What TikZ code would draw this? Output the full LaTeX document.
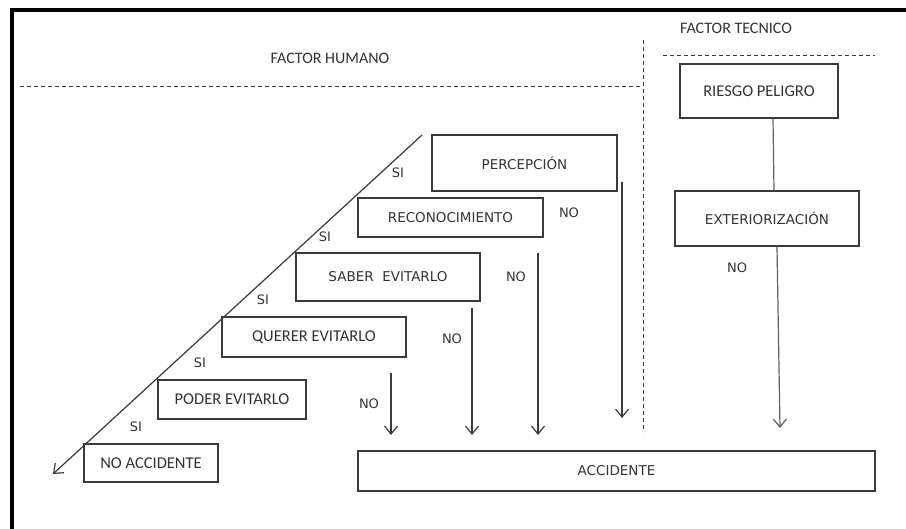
\documentclass[tikz,border=0pt]{standalone}
\usepackage{fontspec}
\usetikzlibrary{arrows.meta}
\newfontfamily\calfont{Carlito}
\newfontfamily\djfont{DejaVu Sans}
\definecolor{linea}{HTML}{3A3A3A}
\definecolor{texto}{HTML}{333333}
\tikzset{
  caja/.style={draw=linea, line width=1.2pt, inner sep=0pt, text=texto},
  cajadj/.style={caja, font=\djfont\fontsize{13.5}{15}\selectfont},
  cajacal/.style={caja, font=\calfont\fontsize{16.5}{18}\selectfont},
  etiq/.style={text=texto, inner sep=0pt, font=\djfont\fontsize{13}{15}\selectfont},
  titulo/.style={text=texto, inner sep=0pt, font=\calfont\fontsize{16}{18}\selectfont},
  flecha/.style={draw=linea, line width=1.2pt, -{Straight Barb[length=8pt,width=13pt]}},
  guion/.style={draw=linea, line width=1pt, dash pattern=on 4pt off 3pt},
}
\begin{document}
\begin{tikzpicture}[x=1pt, y=-1pt]
  \useasboundingbox[fill=white] (0,0) rectangle (906,529);
  %marco
  \draw[line width=4pt] (12,529) -- (12,10) -- (906,10);

  %factor humano
  \node[titulo] (humano) at (330,58) {FACTOR HUMANO};
  \node[titulo] (tecnico) at (736,28) {FACTOR TECNICO};
  \coordinate (h1) at (20,87);
  \coordinate (h2) at (643,87);
  \coordinate (v1) at (643,40);
  \coordinate (v2) at (643,432);
  \coordinate (t1) at (663,56);
  \coordinate (t2) at (875,56);
  \draw[guion] (h1) -- (h2); %horizontal
  \draw[guion] (v1) -- (v2); %vertical
  \draw[guion] (t1) -- (t2); %tecnico

  %cajas
  \node[cajadj, minimum width=185pt, minimum height=56pt] (perc) at (524.5,163) {PERCEPCIÓN};
  \node[cajadj, minimum width=185pt, minimum height=39pt] (reco) at (450.5,217.5) {RECONOCIMIENTO};
  \node[cajadj, minimum width=184pt, minimum height=48pt] (saber) at (388,277) {SABER\ \ EVITARLO};
  \node[cajacal, minimum width=184pt, minimum height=40pt] (querer) at (314,337) {QUERER EVITARLO};
  \node[cajacal, minimum width=148pt, minimum height=39pt] (poder) at (232,399.5) {PODER EVITARLO};
  \node[cajacal, minimum width=134pt, minimum height=38pt] (noacc) at (151,463) {NO ACCIDENTE};
  \node[cajadj, minimum width=517pt, minimum height=40pt] (acc) at (616.5,471) {ACCIDENTE};
  \node[cajacal, minimum width=158pt, minimum height=54pt] (riesgo) at (759,91) {RIESGO PELIGRO};
  \node[cajadj, minimum width=184pt, minimum height=55pt] (ext) at (767,218.5) {EXTERIORIZACIÓN};

  %diagonal
  \coordinate (d1) at (422,135);
  \coordinate (d2) at (53,474);
  \draw[flecha] (d1) -- (d2);
  \node[etiq] (si1) at (398,173) {SI};
  \node[etiq] (si2) at (325,237) {SI};
  \node[etiq] (si3) at (263,300) {SI};
  \node[etiq] (si4) at (200,363) {SI};
  \node[etiq] (si5) at (136,427) {SI};

  %flechas NO
  \coordinate (a1) at (391,373);
  \coordinate (b1) at (391,435);
  \coordinate (a2) at (472,308);
  \coordinate (b2) at (472,435);
  \coordinate (a3) at (538,253);
  \coordinate (b3) at (538,435);
  \coordinate (a4) at (622,182);
  \coordinate (b4) at (622,418);
  \draw[flecha] (a1) -- (b1);
  \draw[flecha] (a2) -- (b2);
  \draw[flecha] (a3) -- (b3);
  \draw[flecha] (a4) -- (b4);
  \node[etiq] (no1) at (369,404) {NO};
  \node[etiq] (no2) at (452,339) {NO};
  \node[etiq] (no3) at (516,277) {NO};
  \node[etiq] (no4) at (569,213) {NO};

  %factor tecnico
  \coordinate (b5) at (780,428);
  \draw[draw=linea!80, line width=1.2pt] ([xshift=14pt]riesgo.south) -- ([xshift=7pt]ext.north);
  \draw[flecha, draw=linea!80] ([xshift=10pt]ext.south) -- (b5);
  \node[etiq] (no5) at (737,268) {NO};
\end{tikzpicture}
\end{document}
